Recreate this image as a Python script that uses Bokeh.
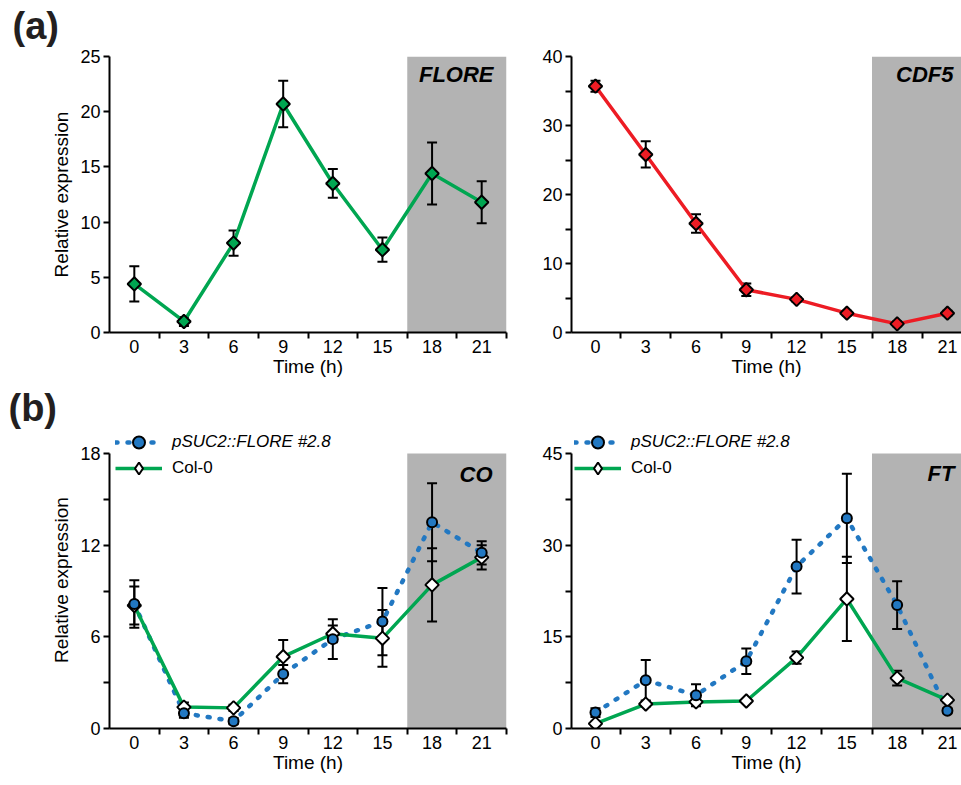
import numpy as np
from bokeh.plotting import figure
from bokeh.models import (ColumnDataSource, Whisker, TeeHead, FixedTicker,
                          BoxAnnotation, Label, Legend, LegendItem, Range1d,
                          LinearAxis)
from bokeh.layouts import column, row
from bokeh.embed import file_html
from bokeh.resources import INLINE

# ---------------- data ----------------
time_h = [0, 3, 6, 9, 12, 15, 18, 21]
dark_start_h = 16.5

flore_mean = [4.4, 1.0, 8.1, 20.7, 13.5, 7.5, 14.4, 11.8]
flore_err = [1.6, 0.4, 1.15, 2.1, 1.3, 1.1, 2.8, 1.9]

cdf5_mean = [35.7, 25.8, 15.8, 6.2, 4.8, 2.8, 1.25, 2.8]
cdf5_err = [0.8, 1.9, 1.35, 0.9, 0.35, 0.35, 0.35, 0.35]

co_psuc2_mean = [8.15, 1.0, 0.48, 3.56, 5.85, 7.0, 13.5, 11.5]
co_psuc2_err = [1.55, 0.3, 0.2, 0.6, 1.3, 2.2, 2.55, 0.76]
co_col0_mean = [8.05, 1.4, 1.35, 4.7, 6.2, 5.9, 9.4, 11.2]
co_col0_err = [1.25, 0.3, 0.2, 1.1, 0.55, 1.85, 2.4, 0.8]

ft_psuc2_mean = [2.6, 7.9, 5.45, 11.0, 26.5, 34.4, 20.2, 2.9]
ft_psuc2_err = [0.7, 3.3, 1.8, 2.1, 4.4, 7.3, 3.9, 0.4]
ft_col0_mean = [0.8, 4.0, 4.35, 4.5, 11.6, 21.2, 8.25, 4.65]
ft_col0_err = [0.3, 0.4, 0.4, 0.3, 1.0, 6.9, 1.2, 0.4]

yticks_flore = [0, 5, 10, 15, 20, 25]
yticks_cdf5 = [0, 10, 20, 30, 40]
yminor_cdf5 = [5, 15, 25, 35]
yticks_co = [0, 6, 12, 18]
yminor_co = [3, 9, 15]
yticks_ft = [0, 15, 30, 45]
yminor_ft = [7.5, 22.5, 37.5]

series_names = ["pSUC2::FLORE #2.8", "Col-0"]
gene_names = ["FLORE", "CDF5", "CO", "FT"]
panel_names = ["(a)", "(b)"]

# ---------------- style ----------------
FONT = "Liberation Sans"
BLACK = "#000000"
GREEN = "#00A651"
RED = "#ED1C24"
BLUE = "#2278C2"
GRAY = "#B3B3B3"

TOTAL_W = 961
LW, RW = 520, 441
HA, H1, HB, H2 = 48, 336, 46, 350
AXIS_H2 = 275          # pixel height of the 0..max axis in row (b)
FRAME_H2 = 297         # frame height in row (b) (room for the legend above the axis top)


def make_fig(width, height, bl, br, bt, bb, x_start, x_end, y_max, y_end,
             yticks, yminor, ylabel, xlabel):
    p = figure(width=width, height=height, output_backend="svg",
               toolbar_location=None,
               x_range=Range1d(x_start, x_end), y_range=Range1d(0, y_end),
               min_border_left=bl, min_border_right=br,
               min_border_top=bt, min_border_bottom=bb)
    p.outline_line_color = None
    p.grid.visible = False
    p.background_fill_color = "white"
    p.border_fill_color = "white"
    p.add_layout(BoxAnnotation(left=dark_start_h, bottom=0, top=y_max,
                               fill_color=GRAY, fill_alpha=1.0,
                               line_color=None, level="underlay"))
    xa = p.xaxis[0]
    xa.ticker = FixedTicker(ticks=time_h, minor_ticks=[t + 1.5 for t in time_h])
    xa.major_tick_line_color = None
    xa.major_tick_out = 6
    xa.major_tick_in = 0
    xa.minor_tick_out = 6
    xa.minor_tick_in = 0
    xa.minor_tick_line_width = 2
    xa.minor_tick_line_color = BLACK
    xa.axis_line_width = 2
    xa.axis_line_color = BLACK
    xa.major_label_standoff = 1
    xa.major_label_text_font = FONT
    xa.major_label_text_font_size = "18px"
    xa.major_label_text_color = BLACK
    if xlabel:
        xa.axis_label = "Time (h)"
        xa.axis_label_standoff = 0
        xa.axis_label_text_font = FONT
        xa.axis_label_text_font_size = "19px"
        xa.axis_label_text_font_style = "normal"
        xa.axis_label_text_color = BLACK
    else:
        # label centred on the (cropped) panel as in the original figure
        p.extra_x_ranges = {"lab": Range1d(0, 1)}
        lab = LinearAxis(x_range_name="lab", ticker=FixedTicker(ticks=[]),
                         axis_line_color=None, major_tick_line_color=None,
                         minor_tick_line_color=None, major_tick_out=0,
                         minor_tick_out=0, major_label_standoff=0,
                         major_label_text_font_size="0px",
                         bounds=(0.066, 1.0), axis_label="Time (h)",
                         axis_label_standoff=0, axis_label_text_font=FONT,
                         axis_label_text_font_size="19px",
                         axis_label_text_font_style="normal",
                         axis_label_text_color=BLACK)
        p.add_layout(lab, "below")

    ya = p.yaxis[0]
    ya.ticker = FixedTicker(ticks=yticks, minor_ticks=yminor)
    ya.bounds = (0, y_max)
    ya.major_tick_out = 6
    ya.major_tick_in = 0
    ya.minor_tick_out = 6
    ya.minor_tick_in = 0
    ya.major_tick_line_width = 2
    ya.minor_tick_line_width = 2
    ya.major_tick_line_color = BLACK
    ya.minor_tick_line_color = BLACK
    ya.axis_line_width = 2
    ya.axis_line_color = BLACK
    ya.major_label_standoff = 3
    ya.major_label_text_font = FONT
    ya.major_label_text_font_size = "18px"
    ya.major_label_text_color = BLACK
    if ylabel:
        ya.axis_label = "Relative expression"
        ya.axis_label_standoff = 5
        ya.axis_label_text_font = FONT
        ya.axis_label_text_font_size = "19px"
        ya.axis_label_text_font_style = "normal"
        ya.axis_label_text_color = BLACK
    return p


def label_strip(height, text, x, y):
    """A thin strip above a row that carries the panel letter."""
    s = figure(width=TOTAL_W, height=height, output_backend="svg",
               toolbar_location=None, x_range=Range1d(0, 1), y_range=Range1d(0, 1),
               min_border=0, x_axis_type=None, y_axis_type=None)
    s.outline_line_color = None
    s.grid.visible = False
    s.background_fill_color = "white"
    s.border_fill_color = "white"
    s.add_layout(Label(x=x, y=y, x_units="screen", y_units="screen", text=text,
                       text_align="left", text_baseline="top",
                       text_font=FONT, text_font_size="38px",
                       text_font_style="bold", text_color="#231F20"))
    return s


def add_errors(p, mean, err):
    src = ColumnDataSource(dict(x=time_h,
                                upper=[m + e for m, e in zip(mean, err)],
                                lower=[m - e for m, e in zip(mean, err)]))
    w = Whisker(source=src, base="x", upper="upper", lower="lower",
                line_color=BLACK, line_width=2, level="underlay",
                upper_head=TeeHead(size=10, line_color=BLACK, line_width=2),
                lower_head=TeeHead(size=10, line_color=BLACK, line_width=2))
    p.add_layout(w)


def gene_label(p, text, x, y):
    p.add_layout(Label(x=x, y=y, x_units="screen", y_units="screen", text=text,
                       text_align="right", text_baseline="top",
                       text_font=FONT, text_font_size="22px",
                       text_font_style="bold italic", text_color=BLACK))


def single_series(p, mean, err, color):
    add_errors(p, mean, err)
    p.line(time_h, mean, line_color=color, line_width=3.5, line_join="round")
    p.scatter(time_h, mean, marker="square", size=9.5, angle=np.pi / 4,
              fill_color=color, line_color=BLACK, line_width=2)


def two_series(p, m1, e1, m2, e2):
    add_errors(p, m1, e1)
    add_errors(p, m2, e2)
    l1 = p.line(time_h, m1, line_color=BLUE, line_width=4.5, line_dash="2 10",
                line_cap="round", line_join="round")
    l2 = p.line(time_h, m2, line_color=GREEN, line_width=3.5, line_join="round")
    # diamond used for the legend swatch (legend markers are drawn unrotated);
    # it sits hidden underneath the rotated-square markers
    d2 = p.scatter(time_h, m2, marker="diamond", size=12,
                   fill_color="white", line_color=BLACK, line_width=2)
    p.scatter(time_h, m2, marker="square", size=9.5, angle=np.pi / 4,
              fill_color="white", line_color=BLACK, line_width=2)
    s1 = p.scatter(time_h, m1, marker="circle", size=10,
                   fill_color=BLUE, line_color=BLACK, line_width=2)
    return (l1, s1), (l2, d2)


def add_legends(p, r1, r2, x0, y1, y2):
    leg1 = Legend(items=[LegendItem(label=series_names[0], renderers=list(r1))],
                  location=(x0, y1), label_text_font_style="italic")
    leg2 = Legend(items=[LegendItem(label=series_names[1], renderers=list(r2))],
                  location=(x0, y2), label_text_font_style="normal")
    for lg in (leg1, leg2):
        lg.label_text_font = FONT
        lg.label_text_font_size = "17px"
        lg.padding = 0
        lg.margin = 0
        lg.spacing = 0
        lg.glyph_width = 47
        lg.glyph_height = 30
        lg.label_height = 30
        lg.label_standoff = 10
        lg.border_line_color = None
        lg.background_fill_alpha = 0
        lg.label_text_color = BLACK
        p.add_layout(lg)


# ---------------- panels ----------------
strip_a = label_strip(HA, panel_names[0], 12, 44)

p1 = make_fig(LW, H1, 109, 14, 8, 52, -1.5, 22.5, 25, 25,
              yticks_flore, [], True, True)
single_series(p1, flore_mean, flore_err, GREEN)
gene_label(p1, gene_names[0], 384, 271)

p2 = make_fig(RW, H1, 51, 0, 8, 52, -1.43, 21.84, 40, 40,
              yticks_cdf5, yminor_cdf5, False, False)
single_series(p2, cdf5_mean, cdf5_err, RED)
gene_label(p2, gene_names[1], 382, 271)

strip_b = label_strip(HB, panel_names[1], 8, 44)

co_ymax, ft_ymax = 18, 45
p3 = make_fig(LW, H2, 109, 14, 1, 52, -1.5, 22.5, co_ymax,
              co_ymax * FRAME_H2 / AXIS_H2, yticks_co, yminor_co, True, True)
r1, r2 = two_series(p3, co_psuc2_mean, co_psuc2_err, co_col0_mean, co_col0_err)
add_legends(p3, r1, r2, 6, 271, 245)
gene_label(p3, gene_names[2], 383, 267)

p4 = make_fig(RW, H2, 51, 0, 1, 52, -1.43, 21.84, ft_ymax,
              ft_ymax * FRAME_H2 / AXIS_H2, yticks_ft, yminor_ft, False, False)
r1, r2 = two_series(p4, ft_psuc2_mean, ft_psuc2_err, ft_col0_mean, ft_col0_err)
add_legends(p4, r1, r2, 3, 271, 245)
gene_label(p4, gene_names[3], 383, 268)

layout = column(strip_a, row(p1, p2), strip_b, row(p3, p4))
open("out.html", "w").write(file_html(layout, INLINE))
